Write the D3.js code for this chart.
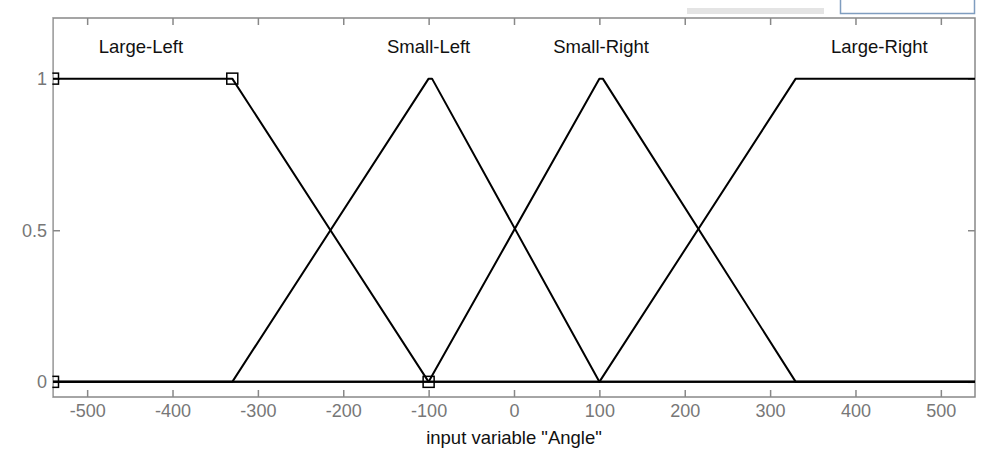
<!DOCTYPE html>
<html><head><meta charset="utf-8">
<script src="https://cdn.jsdelivr.net/npm/d3@7"></script>
<style>body{margin:0;background:#fff}svg{display:block;font-family:"Liberation Sans",Arial,sans-serif}</style>
</head><body>
<svg id="c" width="982" height="453"></svg>
<script>
const xTicks = [-500,-400,-300,-200,-100,0,100,200,300,400,500];
const yTicks = [0,0.5,1];
const mfNames = ["Large-Left","Small-Left","Small-Right","Large-Right"];
const mfLabelX = [-437,-100,102,428];
const largeLeftX = [-540,-330,-100,540];
const largeLeftY = [1,1,0,0];
const smallLeftX = [-540,-330,-100,-96,100,540];
const smallLeftY = [0,0,1,1,0,0];
const smallRightX = [-540,-100,100,104,330,540];
const smallRightY = [0,0,1,1,0,0];
const largeRightX = [-540,100,330,540];
const largeRightY = [0,0,1,1];
const markerX = [-540,-330,-540,-100];
const markerY = [1,1,0,0];

const svg = d3.select("#c");
const L=53,T=18,R=975,B=397;
const x = d3.scaleLinear().domain([-540,540]).range([L,R]);
const y = d3.scaleLinear().domain([-0.05,1.2]).range([B,T]);

// top decorations
svg.append("rect").attr("x",687).attr("y",8).attr("width",137).attr("height",6).attr("fill","#e4e4e4");
svg.append("path").attr("d","M840.5,0V13.5H974.5V0").attr("fill","none").attr("stroke","#7f9dbf").attr("stroke-width",1.5);

const g = svg.append("g");
const tickCol="#888", labCol="#777";
const fmt = d => String(d);
function styleTicks(a){
  a.select(".domain").remove();
  a.selectAll("line").attr("stroke",tickCol).attr("stroke-width",1.5);
  a.selectAll("text").attr("fill",labCol).attr("font-size",18).attr("font-family","Liberation Sans, Arial");
}
g.append("g").attr("transform",`translate(0,${B})`)
 .call(d3.axisBottom(x).tickValues(xTicks).tickSize(-7).tickPadding(7).tickFormat(fmt))
 .call(styleTicks);
g.append("g").attr("transform",`translate(0,${T})`)
 .call(d3.axisTop(x).tickValues(xTicks).tickSize(-7).tickFormat(""))
 .call(styleTicks);
g.append("g").attr("transform",`translate(${R},0)`)
 .call(d3.axisRight(y).tickValues(yTicks).tickSize(-7).tickFormat(""))
 .call(styleTicks);
g.append("g").attr("transform",`translate(${L},0)`)
 .call(d3.axisLeft(y).tickValues(yTicks).tickSize(-7).tickFormat(""))
 .call(styleTicks);
g.append("rect").attr("x",L).attr("y",T).attr("width",R-L).attr("height",B-T).attr("fill","none").attr("stroke",tickCol).attr("stroke-width",1.5);

const line = d3.line().x(d=>x(d[0])).y(d=>y(d[1]));
const series = [[largeLeftX,largeLeftY],[smallLeftX,smallLeftY],[smallRightX,smallRightY],[largeRightX,largeRightY]];
series.forEach(([xs,ys])=>{
  g.append("path").datum(xs.map((v,i)=>[v,ys[i]])).attr("d",line)
   .attr("fill","none").attr("stroke","#000").attr("stroke-width",2).attr("stroke-linejoin","round");
});
g.selectAll(".mk").data(markerX.map((v,i)=>[v,markerY[i]])).join("rect")
 .attr("x",d=>x(d[0])-5.5).attr("y",d=>y(d[1])-5.5).attr("width",11).attr("height",11)
 .attr("fill","none").attr("stroke","#000").attr("stroke-width",1.5);
// hide marker halves outside the axes
svg.append("rect").attr("x",0).attr("y",T).attr("width",L-0.75).attr("height",B-T).attr("fill","#fff");
// y tick labels on top
svg.append("g").attr("transform",`translate(${L},0)`)
 .call(d3.axisLeft(y).tickValues(yTicks).tickSize(0).tickPadding(6).tickFormat(fmt))
 .call(styleTicks);

g.selectAll(".lab").data(mfNames).join("text")
 .attr("x",(d,i)=>x(mfLabelX[i])).attr("y",53).attr("text-anchor","middle")
 .attr("fill","#111").attr("font-size",18.5).text(d=>d);
svg.append("text").attr("x",x(0)).attr("y",444).attr("text-anchor","middle")
 .attr("fill","#111").attr("font-size",18.5).text('input variable "Angle"');
</script>
</body></html>
